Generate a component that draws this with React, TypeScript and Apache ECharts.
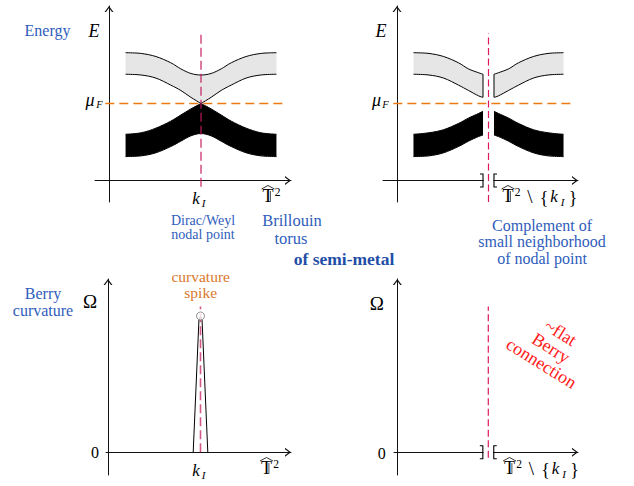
import React, { useEffect, useRef } from 'react';
import * as echarts from 'echarts';

// ---------------- data ----------------
// crystal momentum k in units where the nodal point k_I = 1; energy in units where mu_F = 1
const kNode = 1;
const muF = 1;

// full bands (left panel)
const kBand = [0.18, 0.35, 0.51, 0.67, 0.78, 0.89, 1.0, 1.11, 1.22, 1.33, 1.49, 1.65, 1.82];
const conductionTop = [1.66, 1.65, 1.61, 1.53, 1.45, 1.39, 1.37, 1.39, 1.45, 1.53, 1.61, 1.65, 1.66];
const conductionBottom = [1.38, 1.37, 1.33, 1.24, 1.17, 1.08, 1.0, 1.08, 1.17, 1.24, 1.33, 1.37, 1.38];
const valenceTop = [0.6, 0.62, 0.68, 0.77, 0.85, 0.93, 1.0, 0.93, 0.85, 0.77, 0.68, 0.62, 0.6];
const valenceBottom = [0.31, 0.32, 0.36, 0.44, 0.51, 0.58, 0.61, 0.58, 0.51, 0.44, 0.36, 0.32, 0.31];

// bands with a small neighbourhood of k_I removed (right panel)
const nbhdLeft = 0.94;
const nbhdRight = 1.06;
const kBandL = [0.18, 0.35, 0.51, 0.67, 0.78, 0.89, 0.94];
const conductionTopL = [1.66, 1.65, 1.61, 1.53, 1.45, 1.4, 1.38];
const conductionBottomL = [1.38, 1.37, 1.33, 1.24, 1.17, 1.1, 1.08];
const valenceTopL = [0.6, 0.62, 0.66, 0.74, 0.81, 0.87, 0.9];
const valenceBottomL = [0.31, 0.32, 0.36, 0.44, 0.51, 0.57, 0.59];
const kBandR = [1.06, 1.11, 1.22, 1.33, 1.49, 1.65, 1.82];
const conductionTopR = [1.38, 1.4, 1.45, 1.53, 1.61, 1.65, 1.66];
const conductionBottomR = [1.08, 1.1, 1.17, 1.24, 1.33, 1.37, 1.38];
const valenceTopR = [0.9, 0.87, 0.81, 0.74, 0.66, 0.62, 0.6];
const valenceBottomR = [0.59, 0.57, 0.51, 0.44, 0.36, 0.32, 0.31];

// Berry curvature spike (bottom-left)
const kSpike = [0.921, 0.983, 1.0, 1.017, 1.079];
const omegaSpike = [0, 0.97, 1.0, 0.97, 0];

// dashed guide lines
const muLineK = [-0.04, 1.91];
const nodeLineTL = [-0.08, 1.91];
const nodeLineTR = [-0.28, 1.91];
const nodeLineBL = [0, 1.07];
const nodeLineBR = [-0.04, 1.07];

// ---------------- styles ----------------
const SERIF = '"Liberation Serif", "Times New Roman", Times, serif';
const BLUE = '#2f5dbb';
const BLUE_BOLD = '#1f4ea6';
const ORANGE_TXT = '#d9782c';
const ORANGE_LINE = '#ec7a12';
const PINK_L = '#c2185b';
const PINK_R = '#e0185a';
const RED = '#ff1a1a';
const GRAY = '#e6e6e6';
const AXIS = '#111';

function panel(left: number, right: number, originX: number, nodeX: number, top: number, bottom: number, originY: number, unitY: number) {
  const ux = nodeX - originX;
  return {
    grid: { left, top, width: right - left, height: bottom - top, outerBoundsMode: 'none' },
    xMin: -(originX - left) / ux,
    xMax: (right - originX) / ux,
    yMin: -(bottom - originY) / unitY,
    yMax: (originY - top) / unitY,
  };
}

const panels = [
  panel(95, 291, 109, 201, 6, 202, 180.5, 77),
  panel(383, 578, 397, 488.5, 6, 202, 180.5, 77),
  panel(106, 291, 108, 200.5, 279, 475, 452.3, 136.3),
  panel(394, 578, 397.3, 488.3, 279, 475, 452.3, 136.3),
];

const chevron = 'path://M0,6 L4.5,0 L9,6 L7.5,6 L4.5,2 L1.5,6 Z';
const axisLine = {
  show: true,
  onZero: true,
  symbol: ['none', chevron],
  symbolSize: [9, 6],
  symbolOffset: [0, -3],
  lineStyle: { color: AXIS, width: 1 },
};

function smoothD(P: number[][], sharp: number[] = [], move = true): string {
  let d = (move ? 'M' : 'L') + P[0][0] + ',' + P[0][1];
  const runs: number[][][] = [];
  let start = 0;
  for (let i = 1; i < P.length; i++) {
    if (sharp.indexOf(i) >= 0 || i === P.length - 1) {
      runs.push(P.slice(start, i + 1));
      start = i;
    }
  }
  for (const R of runs) {
    for (let i = 0; i < R.length - 1; i++) {
      const p0 = R[i - 1] || R[i];
      const p1 = R[i];
      const p2 = R[i + 1];
      const p3 = R[i + 2] || R[i + 1];
      const c1x = p1[0] + (p2[0] - p0[0]) / 6;
      const c1y = p1[1] + (p2[1] - p0[1]) / 6;
      const c2x = p2[0] - (p3[0] - p1[0]) / 6;
      const c2y = p2[1] - (p3[1] - p1[1]) / 6;
      d += ' C' + c1x + ',' + c1y + ' ' + c2x + ',' + c2y + ' ' + p2[0] + ',' + p2[1];
    }
  }
  return d;
}

type BandPart = {
  ks: number[];
  top: number[];
  bot: number[];
  fill: string;
  sharpTop?: number[];
  sharpBot?: number[];
  edgeStart?: boolean;
  edgeEnd?: boolean;
};

function bandSeries(gi: number, parts: BandPart[]) {
  return {
    type: 'custom',
    coordinateSystem: 'cartesian2d',
    xAxisIndex: gi,
    yAxisIndex: gi,
    data: [[kNode, muF]],
    silent: true,
    z: 2,
    renderItem: (_p: any, api: any) => {
      const children: any[] = [];
      for (const b of parts) {
        const n = b.ks.length;
        const T = b.ks.map((k, i) => api.coord([k, b.top[i]]));
        const B = b.ks.map((k, i) => api.coord([k, b.bot[i]]));
        const Br = B.slice().reverse();
        const sharpBr = (b.sharpBot || []).map((i) => n - 1 - i);
        const fillD = smoothD(T, b.sharpTop) + ' ' + smoothD(Br, sharpBr, false) + ' Z';
        children.push({ type: 'path', shape: { pathData: fillD }, style: { fill: b.fill, stroke: 'none' } });
        children.push({ type: 'path', shape: { pathData: smoothD(T, b.sharpTop) }, style: { fill: 'none', stroke: '#000', lineWidth: 1 } });
        children.push({ type: 'path', shape: { pathData: smoothD(B, b.sharpBot) }, style: { fill: 'none', stroke: '#000', lineWidth: 1 } });
        if (b.edgeStart) children.push({ type: 'line', shape: { x1: T[0][0], y1: T[0][1], x2: B[0][0], y2: B[0][1] }, style: { stroke: '#000', lineWidth: 1 } });
        if (b.edgeEnd) children.push({ type: 'line', shape: { x1: T[n - 1][0], y1: T[n - 1][1], x2: B[n - 1][0], y2: B[n - 1][1] }, style: { stroke: '#000', lineWidth: 1 } });
      }
      return { type: 'group', children };
    },
  };
}

function bracketSeries(gi: number) {
  return {
    type: 'custom',
    coordinateSystem: 'cartesian2d',
    xAxisIndex: gi,
    yAxisIndex: gi,
    data: [[nbhdLeft, 0]],
    silent: true,
    z: 2,
    renderItem: (_p: any, api: any) => {
      const a = api.coord([nbhdLeft, 0]);
      const b = api.coord([nbhdRight, 0]);
      const h = 6.5;
      const w = 3;
      const st = { stroke: '#000', fill: 'none', lineWidth: 1.1 };
      return {
        type: 'group',
        children: [
          { type: 'rect', shape: { x: a[0] + 0.6, y: a[1] - 2, width: b[0] - a[0] - 1.2, height: 4 }, style: { fill: '#fff' } },
          { type: 'polyline', shape: { points: [[a[0] - w, a[1] - h], [a[0], a[1] - h], [a[0], a[1] + h], [a[0] - w, a[1] + h]] }, style: st },
          { type: 'polyline', shape: { points: [[b[0] + w, b[1] - h], [b[0], b[1] - h], [b[0], b[1] + h], [b[0] + w, b[1] + h]] }, style: st },
        ],
      };
    },
  };
}

function lineSeries(gi: number, data: number[][], color: string, width: number, dash: any, opacity = 1, z = 3) {
  return {
    type: 'line',
    xAxisIndex: gi,
    yAxisIndex: gi,
    data,
    color,
    symbol: 'none',
    silent: true,
    z,
    itemStyle: { color },
    lineStyle: { color, width, type: dash, opacity },
  };
}

type TOpt = { color?: string; italic?: boolean; bold?: boolean; family?: string; rotation?: number; lineHeight?: number; center?: boolean };
function label(text: string, x: number, baseline: number, size: number, o: TOpt = {}) {
  const font = (o.italic ? 'italic ' : '') + (o.bold ? 'bold ' : '') + size + 'px ' + (o.family || SERIF);
  return {
    type: 'text',
    x,
    y: o.center ? baseline : baseline - 0.34 * size,
    rotation: o.rotation || 0,
    silent: true,
    z: 20,
    style: {
      text,
      font,
      fill: o.color || '#000',
      align: 'center',
      verticalAlign: 'middle',
      textAlign: 'center',
      textVerticalAlign: 'middle',
      lineHeight: o.lineHeight,
    },
  };
}

function gline(pts: number[][], w: number) {
  return { type: 'polyline', silent: true, z: 20, shape: { points: pts }, style: { stroke: '#000', lineWidth: w, fill: 'none' } };
}

// hat-T (Brillouin torus) with superscript 2; T drawn as a double-struck letter
function torusT(x: number, baseline: number) {
  return [
    label('T', x, baseline, 18),
    gline([[x + 2.4, baseline - 11], [x + 2.4, baseline - 0.6]], 0.7),
    label('2', x + 9.5, baseline - 6.5, 11.5),
    gline([[x - 6.5, baseline - 13], [x, baseline - 16.5], [x + 6.5, baseline - 13]], 0.8),
  ];
}

function torusMinusK(x: number, baseline: number) {
  return [
    ...torusT(x, baseline),
    label('\\', x + 22, baseline + 1, 19),
    label('{', x + 36, baseline + 2, 18),
    label('k', x + 46, baseline, 17, { italic: true }),
    label('I', x + 54.5, baseline + 3.5, 11, { italic: true }),
    label('}', x + 65, baseline + 2, 18),
  ];
}

const texts: any[] = [
  // top-left
  label('Energy', 47.5, 35.5, 16, { color: BLUE }),
  label('E', 94, 37.5, 18, { italic: true }),
  label('\u03BC', 90, 106.5, 18, { italic: true }),
  label('F', 99.5, 108.5, 10.5, { italic: true }),
  label('k', 196, 204, 17, { italic: true }),
  label('I', 203.5, 207, 11, { italic: true }),
  ...torusT(268, 202),
  label('Dirac/Weyl', 203, 225, 14, { color: BLUE }),
  label('nodal point', 203, 239.5, 14, { color: BLUE }),
  label('Brillouin', 292, 226.5, 16.5, { color: BLUE }),
  label('torus', 291, 244.5, 16.5, { color: BLUE }),
  label('of semi-metal', 344, 265, 17.5, { color: BLUE_BOLD, bold: true }),
  // top-right
  label('E', 381, 37.5, 18, { italic: true }),
  label('\u03BC', 376.5, 106.5, 18, { italic: true }),
  label('F', 385.5, 108.5, 10.5, { italic: true }),
  ...torusMinusK(508, 202),
  label('Complement of', 542, 230.5, 16, { color: BLUE }),
  label('small neighborhood', 542, 247.2, 16, { color: BLUE }),
  label('of nodal point', 542, 264, 16, { color: BLUE }),
  // bottom-left
  label('Berry', 43, 299, 16, { color: BLUE }),
  label('curvature', 43, 316, 16, { color: BLUE }),
  label('\u03A9', 90, 308, 19),
  label('curvature', 200.7, 281.5, 15.5, { color: ORANGE_TXT }),
  label('spike', 200.7, 297.5, 15.5, { color: ORANGE_TXT }),
  label('0', 95, 458, 16),
  label('k', 196, 476, 17, { italic: true }),
  label('I', 203.5, 479, 11, { italic: true }),
  ...torusT(266.5, 474),
  // bottom-right
  label('\u03A9', 376.7, 310, 19),
  label('0', 381.7, 459, 16),
  ...torusMinusK(509.5, 474),
  label('~flat\nBerry\nconnection', 551, 348, 18, { color: RED, center: true, rotation: (-32 * Math.PI) / 180, lineHeight: 18 }),
];

export default function App() {
  const ref = useRef<HTMLDivElement>(null);
  useEffect(() => {
    if (!ref.current) return;
    const chart = echarts.init(ref.current, null, { renderer: 'svg' });
    const zip = (a: number[], b: number[]) => a.map((v, i) => [v, b[i]]);
    const series: any[] = [
      // top-left bands
      bandSeries(0, [
        { ks: kBand, top: conductionTop, bot: conductionBottom, fill: GRAY, sharpBot: [6] },
        { ks: kBand, top: valenceTop, bot: valenceBottom, fill: '#000', sharpTop: [6] },
      ]),
      lineSeries(0, [[muLineK[0], muF], [muLineK[1], muF]], ORANGE_LINE, 1.4, [9, 5], 1, 3),
      lineSeries(0, [[kNode, nodeLineTL[0]], [kNode, nodeLineTL[1]]], PINK_L, 1.6, [9, 4], 0.72, 4),
      // top-right bands
      bandSeries(1, [
        { ks: kBandL, top: conductionTopL, bot: conductionBottomL, fill: GRAY, edgeEnd: true },
        { ks: kBandR, top: conductionTopR, bot: conductionBottomR, fill: GRAY, edgeStart: true },
        { ks: kBandL, top: valenceTopL, bot: valenceBottomL, fill: '#000' },
        { ks: kBandR, top: valenceTopR, bot: valenceBottomR, fill: '#000' },
      ]),
      bracketSeries(1),
      lineSeries(1, [[muLineK[0], muF], [muLineK[1], muF]], ORANGE_LINE, 1.4, [9, 5], 1, 3),
      lineSeries(1, [[kNode, nodeLineTR[0]], [kNode, nodeLineTR[1]]], PINK_R, 1.2, [7, 3.5], 1, 4),
      // bottom-left
      lineSeries(2, zip(kSpike, omegaSpike), '#000', 1, 'solid', 1, 3),
      lineSeries(2, [[kNode, nodeLineBL[0]], [kNode, nodeLineBL[1]]], PINK_L, 1.6, [9, 4], 0.72, 4),
      {
        type: 'scatter',
        xAxisIndex: 2,
        yAxisIndex: 2,
        data: [[kNode, Math.max(...omegaSpike)]],
        symbol: 'circle',
        symbolSize: 8,
        silent: true,
        z: 5,
        itemStyle: { color: '#fff', borderColor: '#777', borderWidth: 1 },
      },
      // bottom-right
      bracketSeries(3),
      lineSeries(3, [[kNode, nodeLineBR[0]], [kNode, nodeLineBR[1]]], PINK_R, 1.2, [7, 3.5], 1, 4),
    ];
    chart.setOption({
      animation: false,
      backgroundColor: '#fff',
      grid: panels.map((p) => p.grid),
      xAxis: panels.map((p, i) => ({
        type: 'value',
        gridIndex: i,
        min: p.xMin,
        max: p.xMax,
        axisLine: axisLine,
        axisTick: { show: false },
        axisLabel: { show: false },
        splitLine: { show: false },
      })),
      yAxis: panels.map((p, i) => ({
        type: 'value',
        gridIndex: i,
        min: p.yMin,
        max: p.yMax,
        axisLine: axisLine,
        axisTick: { show: false },
        axisLabel: { show: false },
        splitLine: { show: false },
      })),
      series,
      graphic: { elements: texts },
    });
    return () => chart.dispose();
  }, []);
  return <div ref={ref} style={{ position: 'absolute', left: 0, top: 0, width: 634, height: 486, background: '#fff' }} />;
}
